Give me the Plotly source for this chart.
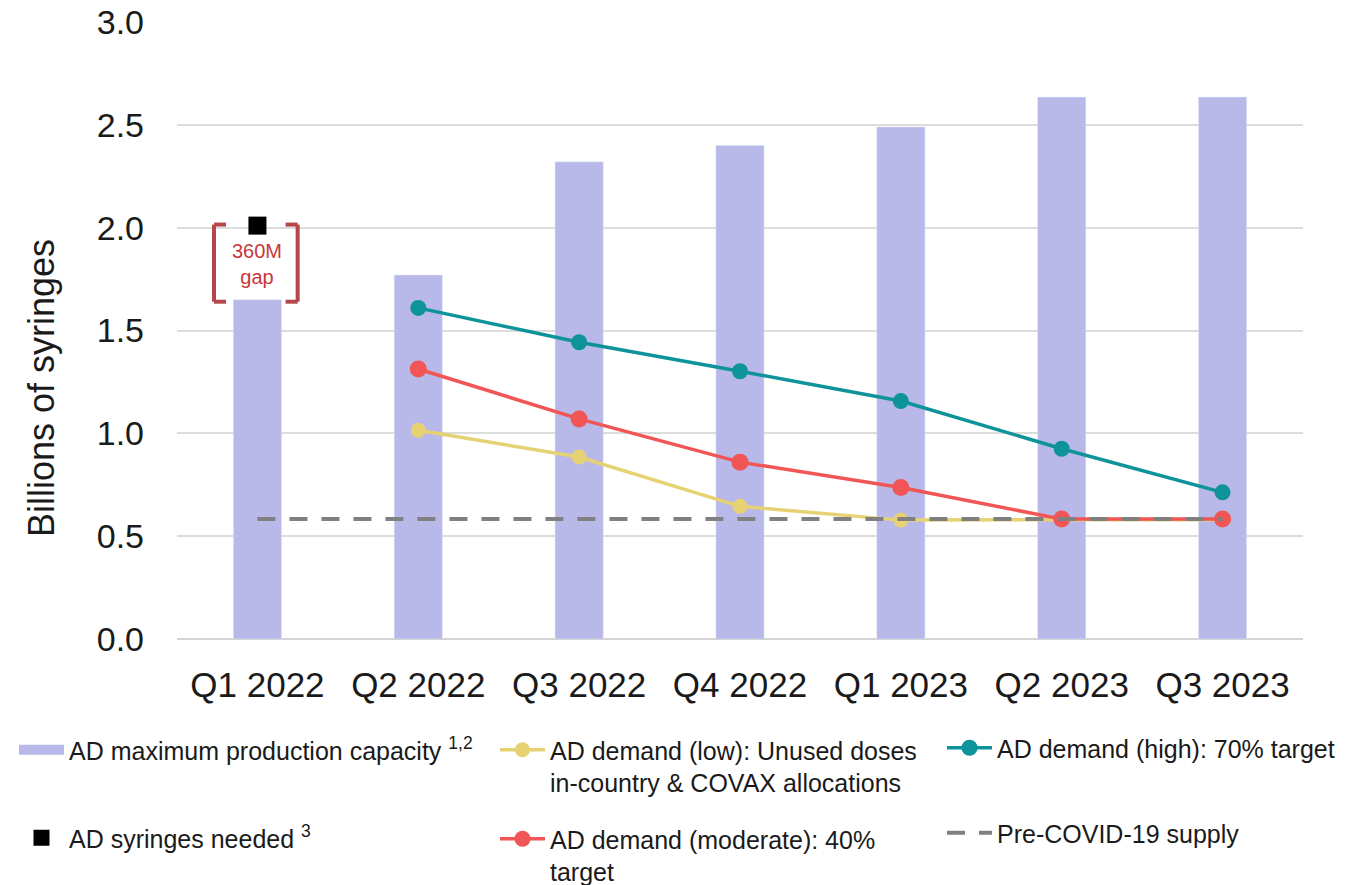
import plotly.graph_objects as go

# Quarterly periods on the x axis
quarters = ["Q1 2022", "Q2 2022", "Q3 2022", "Q4 2022", "Q1 2023", "Q2 2023", "Q3 2023"]

# Billions of syringes
capacity = [1.65, 1.77, 2.32, 2.40, 2.49, 2.635, 2.635]
needed_q = ["Q1 2022"]
needed = [2.01]
demand_low = [None, 1.015, 0.885, 0.645, 0.578, 0.58, 0.58]
demand_moderate = [None, 1.313, 1.07, 0.86, 0.737, 0.583, 0.583]
demand_high = [None, 1.61, 1.443, 1.302, 1.157, 0.925, 0.713]
pre_covid_supply = [0.583] * 7

FONT = "Liberation Sans, Arial, sans-serif"
BAR_C = "#b8b8e9"
LOW_C = "#e6d273"
MOD_C = "#f25555"
HIGH_C = "#0f939b"
DASH_C = "#808080"
BRACKET_C = "#b5474a"
TEXT_C = "#1a1a1a"

fig = go.Figure()

fig.add_trace(go.Bar(x=quarters, y=capacity, marker_color=BAR_C, width=0.3,
                     showlegend=False, hoverinfo="x+y"))
# legend swatch for the bars (wide block)
fig.add_trace(go.Scatter(x=[None], y=[None], mode="lines",
                         line=dict(color=BAR_C, width=14),
                         name="AD maximum production capacity <sup>1,2</sup>",
                         legend="legend"))

fig.add_trace(go.Scatter(x=quarters, y=demand_low, mode="lines+markers",
                         line=dict(color=LOW_C, width=3.5),
                         marker=dict(size=15, color=LOW_C),
                         name="AD demand (low): Unused doses<br>in-country & COVAX allocations",
                         legend="legend2"))
fig.add_trace(go.Scatter(x=quarters, y=demand_moderate, mode="lines+markers",
                         line=dict(color=MOD_C, width=3.5),
                         marker=dict(size=17, color=MOD_C),
                         name="AD demand (moderate): 40%<br>target",
                         legend="legend5"))
fig.add_trace(go.Scatter(x=quarters, y=pre_covid_supply, mode="lines",
                         line=dict(color=DASH_C, width=4, dash="18px,14px"),
                         name="Pre-COVID-19 supply",
                         legend="legend6"))
fig.add_trace(go.Scatter(x=quarters, y=demand_high, mode="lines+markers",
                         line=dict(color=HIGH_C, width=3.5),
                         marker=dict(size=16, color=HIGH_C),
                         name="AD demand (high): 70% target",
                         legend="legend3"))
fig.add_trace(go.Scatter(x=needed_q, y=needed, mode="markers",
                         marker=dict(symbol="square", size=18, color="black"),
                         name="AD syringes needed <sup>3</sup>",
                         legend="legend4"))

# Bracket marking the gap between need and capacity in Q1 2022
gap_top = needed[0] + 0.005
gap_bottom = capacity[0] - 0.01
xl, xr, tick = -0.27, 0.25, 0.075
bracket = dict(type="line", xref="x", yref="y",
               line=dict(color=BRACKET_C, width=4))
for x_edge, x_in in ((xl, xl + tick), (xr, xr - tick)):
    fig.add_shape(**bracket, x0=x_edge, x1=x_edge, y0=gap_bottom, y1=gap_top)
    fig.add_shape(**bracket, x0=x_edge, x1=x_in, y0=gap_top, y1=gap_top)
    fig.add_shape(**bracket, x0=x_edge, x1=x_in, y0=gap_bottom, y1=gap_bottom)

gap_m = round((needed[0] - capacity[0]) * 1000)
fig.add_annotation(x=0, y=(needed[0] + capacity[0]) / 2 - 0.005, xref="x", yref="y",
                   text=f"{gap_m}M<br>gap", showarrow=False,
                   font=dict(family=FONT, size=20, color="#c8373a"))


def px_x(p):
    return (p - 177) / 1126


def px_y(p):
    return (639 - p) / 617


# y-axis title, placed as a rotated label left of the tick labels
fig.add_annotation(x=px_x(41), y=px_y(388), xref="paper", yref="paper",
                   text="Billions of syringes", textangle=-90, showarrow=False,
                   xanchor="center", yanchor="middle",
                   font=dict(family=FONT, size=36, color=TEXT_C))

legend_common = dict(bgcolor="rgba(0,0,0,0)", font=dict(family=FONT, size=25, color=TEXT_C),
                     itemwidth=45, valign="top", xanchor="left", yanchor="top",
                     itemclick=False, itemdoubleclick=False)

fig.update_layout(
    width=1348, height=885,
    margin=dict(l=177, r=45, t=22, b=246, autoexpand=False),
    plot_bgcolor="white", paper_bgcolor="white",
    font=dict(family=FONT, color=TEXT_C),
    xaxis=dict(type="category", categoryorder="array", categoryarray=quarters,
               range=[-0.5, 6.5], showgrid=False, showline=False, zeroline=False,
               automargin=False, ticks="", ticklabelstandoff=22,
               tickfont=dict(family=FONT, size=35, color=TEXT_C)),
    yaxis=dict(range=[0, 3.0], dtick=0.5, tickformat=".1f",
               showgrid=True, gridcolor="#dcdcdc", gridwidth=1.5,
               zeroline=True, zerolinecolor="#d4d4d4", zerolinewidth=1.5,
               showline=False, ticks="", ticklabelstandoff=32, automargin=False,
               tickfont=dict(family=FONT, size=34, color=TEXT_C)),
    legend=dict(**legend_common, x=px_x(14), y=px_y(727)),
    legend4=dict(**legend_common, x=px_x(14), y=px_y(815)),
    legend2=dict(**legend_common, x=px_x(495), y=px_y(727)),
    legend5=dict(**legend_common, x=px_x(495), y=px_y(816)),
    legend3=dict(**legend_common, x=px_x(942), y=px_y(725)),
    legend6=dict(**legend_common, x=px_x(942), y=px_y(810)),
)

fig.write_html("out.html")
